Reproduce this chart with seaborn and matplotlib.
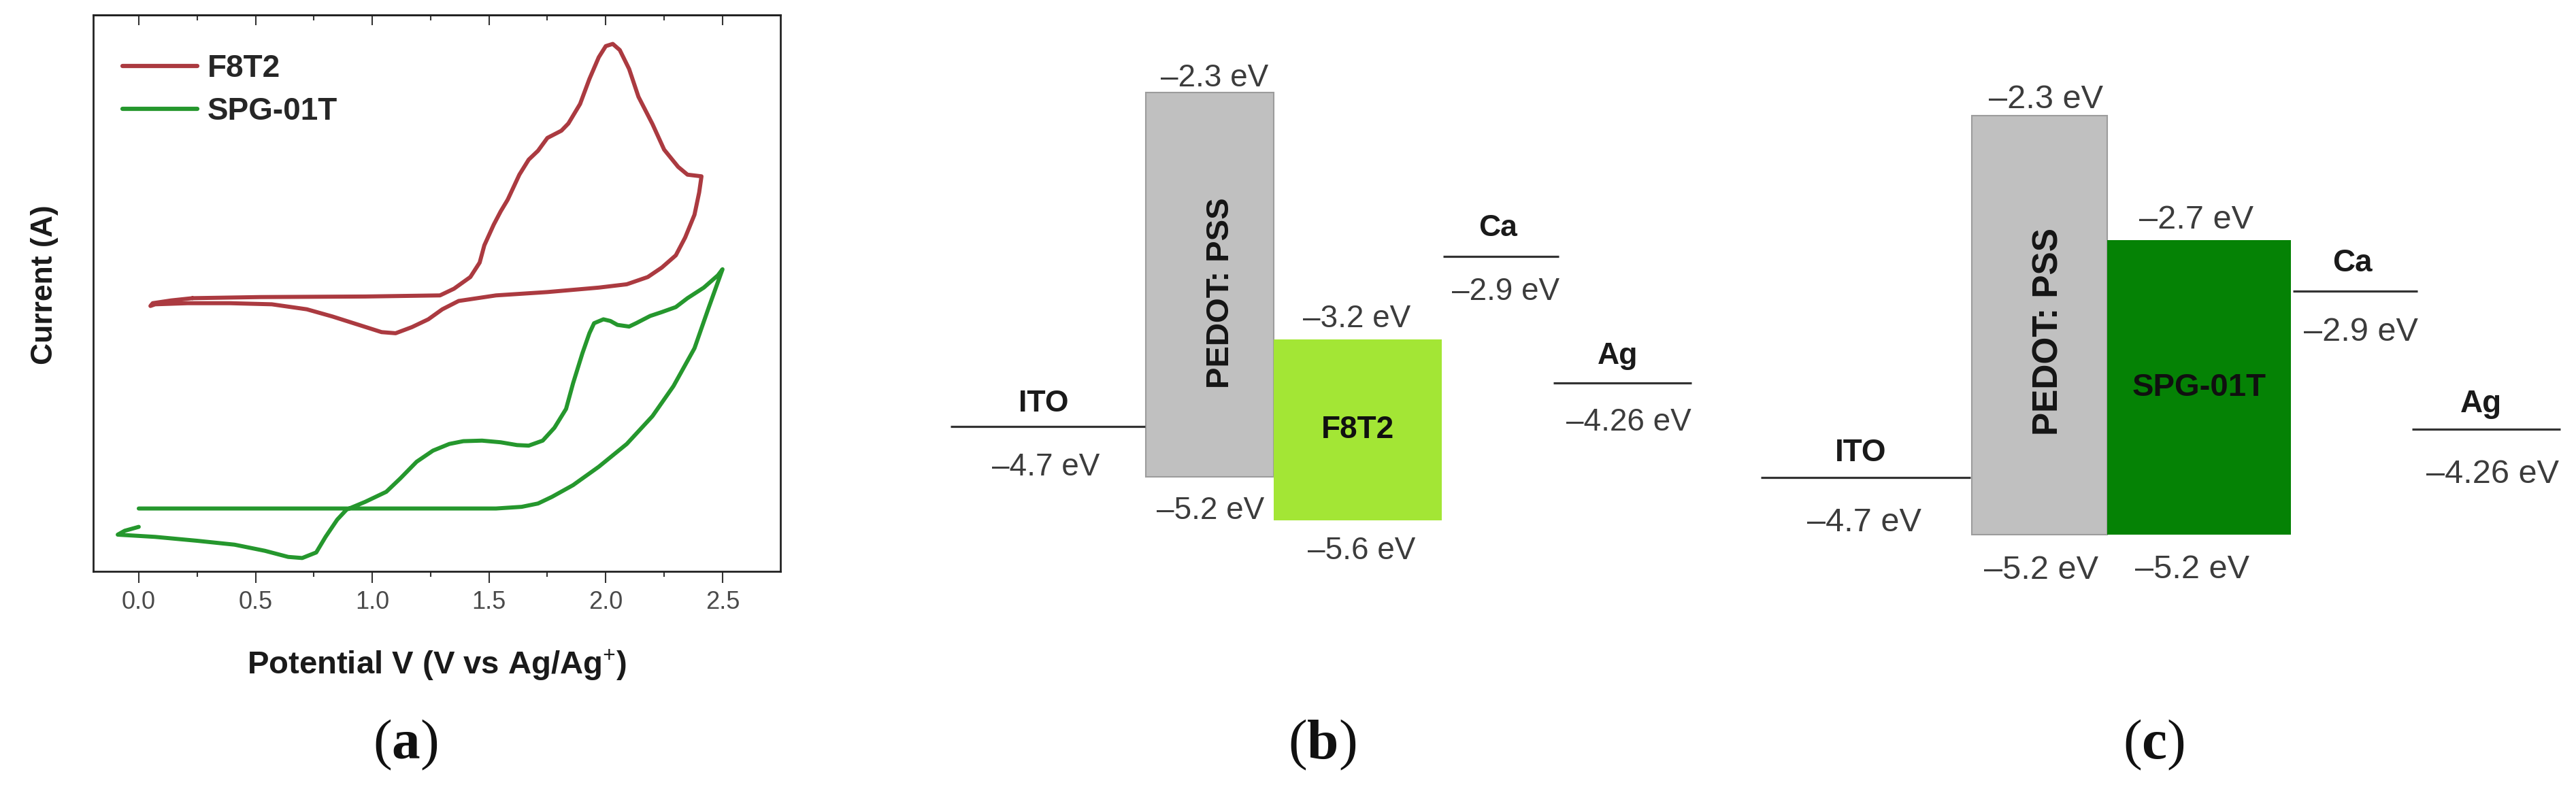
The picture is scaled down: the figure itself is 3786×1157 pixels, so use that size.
import numpy as np
import pandas as pd
import matplotlib
matplotlib.use("Agg")
import matplotlib.pyplot as plt
from matplotlib.ticker import MultipleLocator
import seaborn as sns

# (a) cyclic voltammograms, current in arbitrary units
f8t2_v = [0.23, 0.52, 0.97, 1.29, 1.35, 1.42, 1.46, 1.48, 1.52, 1.55, 1.58, 1.63, 1.67, 1.71,
          1.75, 1.81, 1.84, 1.89, 1.93, 1.97, 2.00, 2.03, 2.06, 2.10, 2.14, 2.20, 2.25, 2.31,
          2.35, 2.41, 2.40, 2.38, 2.34, 2.30, 2.24, 2.18, 2.09, 1.97, 1.75, 1.53, 1.37, 1.30,
          1.24, 1.17, 1.10, 1.04, 0.95, 0.83, 0.72, 0.57, 0.39, 0.21, 0.07, 0.05, 0.06, 0.14, 0.23]
f8t2_i = [49.1, 49.3, 49.4, 49.6, 50.8, 52.9, 55.5, 58.6, 62.3, 64.7, 66.8, 71.3, 74.0, 75.6,
          77.9, 79.2, 80.5, 84.0, 88.5, 92.4, 94.4, 94.8, 93.7, 90.3, 85.3, 80.4, 75.8, 72.7,
          71.3, 71.0, 68.1, 64.1, 60.0, 56.8, 54.6, 52.9, 51.6, 51.0, 50.2, 49.6, 48.6, 47.1,
          45.3, 43.9, 42.8, 43.0, 44.2, 45.8, 47.1, 48.0, 48.2, 48.2, 48.0, 47.7, 48.2, 48.7, 49.1]
spg_v = [0.00, 0.52, 1.19, 1.53, 1.64, 1.71, 1.77, 1.86, 1.97, 2.09, 2.20, 2.29, 2.38, 2.44,
         2.50, 2.48, 2.42, 2.35, 2.30, 2.24, 2.19, 2.13, 2.10, 2.05, 2.02, 1.99, 1.95, 1.93,
         1.90, 1.86, 1.83, 1.78, 1.73, 1.67, 1.62, 1.55, 1.47, 1.39, 1.33, 1.26, 1.19, 1.12,
         1.06, 0.97, 0.89, 0.85, 0.80, 0.76, 0.70, 0.64, 0.54, 0.41, 0.25, 0.07, -0.09, -0.06, 0.00]
spg_i = [11.3, 11.3, 11.3, 11.3, 11.6, 12.2, 13.4, 15.5, 18.8, 22.9, 27.9, 33.3, 40.1, 47.3,
         54.3, 53.2, 51.0, 49.1, 47.5, 46.6, 45.9, 44.6, 44.0, 44.3, 45.0, 45.3, 44.6, 42.8,
         39.2, 33.8, 29.2, 25.8, 23.5, 22.6, 22.7, 23.2, 23.5, 23.4, 22.9, 21.7, 19.7, 16.7,
         14.3, 12.5, 11.1, 9.3, 6.2, 3.4, 2.4, 2.6, 3.7, 4.8, 5.5, 6.2, 6.6, 7.3, 8.0]
cv_names = ["F8T2", "SPG-01T"]
cv_colors = ["#ab3a40", "#25972d"]

# (b), (c) energy levels in eV
ito_level = -4.7
ca_level = -2.9
ag_level = -4.26
pedot_levels = [-2.3, -5.2]
f8t2_levels = [-3.2, -5.6]
spg_levels = [-2.7, -5.2]

W, H = 3787, 1157

sns.set_theme(style="ticks")
plt.rcParams["font.family"] = ["Liberation Sans", "DejaVu Sans"]
plt.rcParams["mathtext.fontset"] = "custom"
plt.rcParams["mathtext.rm"] = "Liberation Serif"
plt.rcParams["mathtext.bf"] = "Liberation Serif:bold"

fig = plt.figure(figsize=(W / 100, H / 100), dpi=100)

# ---------------- (a)
ax = fig.add_axes([137 / W, (H - 840) / H, (1147 - 137) / W, (840 - 22) / H])
cv = pd.concat([
    pd.DataFrame({"V": f8t2_v, "I": f8t2_i, "sample": cv_names[0]}),
    pd.DataFrame({"V": spg_v, "I": spg_i, "sample": cv_names[1]}),
], ignore_index=True)
sns.lineplot(data=cv, x="V", y="I", hue="sample", palette=dict(zip(cv_names, cv_colors)),
             sort=False, estimator=None, lw=4.3, ax=ax)
for ln in ax.get_lines():
    ln.set_solid_joinstyle("round")
ax.set_xlim(-0.195, 2.748)
ax.set_ylim(0, 100)
ax.set_yticks([])
ax.xaxis.set_major_locator(MultipleLocator(0.5))
ax.xaxis.set_minor_locator(MultipleLocator(0.25))
ax.tick_params(axis="x", which="both", direction="out", top=False, width=1.5, color="#333333",
               labelsize=26, labelcolor="#4a4a4a", pad=8)
ax.tick_params(axis="x", which="major", length=12)
ax.tick_params(axis="x", which="minor", length=6)
for s in ax.spines.values():
    s.set_linewidth(2)
    s.set_color("#222222")
top = ax.secondary_xaxis("top")
top.xaxis.set_major_locator(MultipleLocator(0.5))
top.xaxis.set_minor_locator(MultipleLocator(0.25))
top.tick_params(which="both", direction="in", labeltop=False, width=1.5, color="#333333")
top.tick_params(which="major", length=11)
top.tick_params(which="minor", length=6)
top.spines["top"].set_linewidth(2)
top.spines["top"].set_color("#222222")

ax.set_xlabel(r"Potential V (V vs Ag/Ag$^{\mathbf{+}}$)", fontsize=34, fontweight="bold",
              color="#1a1a1a")
ax.xaxis.set_label_coords(0.5, -0.138)
ax.set_ylabel("Current (A)", fontsize=32, fontweight="bold", color="#1a1a1a")
ax.yaxis.set_label_coords(-0.050, 0.515)

handles, labels = ax.get_legend_handles_labels()
leg = ax.legend(handles, labels, loc="upper left", bbox_to_anchor=(0.0426, 0.93), frameon=False,
                borderpad=0, borderaxespad=0, handlelength=2.4, handletextpad=0.33,
                labelspacing=0.4, prop={"size": 33, "weight": "bold"})
for ln in leg.get_lines():
    ln.set_linewidth(4.5)


# ---------------- (b), (c) schematic energy diagrams
def ev_text(v):
    return "\u2013%s eV" % format(abs(v), "g")


def band_axes(span, marks_ev, marks_px):
    x0, x1 = span
    bax = fig.add_axes([x0 / W, 0, (x1 - x0) / W, 1])
    order = np.argsort(marks_ev)
    ev = np.asarray(marks_ev, float)[order]
    hp = H - np.asarray(marks_px, float)[order]
    # the drawing is not to scale: piecewise-linear energy axis through the drawn levels
    ev2 = np.r_[ev[0] - 10, ev, ev[-1] + 10]
    hp2 = np.r_[hp[0] - 1500, hp, hp[-1] + 1500]
    fwd = lambda v: np.interp(v, ev2, hp2)
    inv = lambda p: np.interp(p, hp2, ev2)
    bax.set_yscale("function", functions=(fwd, inv))
    bax.set_xlim(x0, x1)
    bax.set_ylim(inv(0), inv(H))
    bax.axis("off")
    return bax


def draw_band(bax, g, poly_name, poly_levels, poly_color, off, fs_val, fs_name, fs_pedot):
    lc = "#333333"
    for key, lev in (("ito", ito_level), ("ca", ca_level), ("ag", ag_level)):
        bax.hlines(lev, g[key][0], g[key][1], color=lc, lw=2.3)
    pb = bax.bar(g["pedot"][0], pedot_levels[0] - pedot_levels[1], width=g["pedot"][1] - g["pedot"][0],
                 bottom=pedot_levels[1], align="edge", color="#c0c0c0", edgecolor="#9c9c9c", lw=1.5)
    yb = bax.bar(g["poly"][0], poly_levels[0] - poly_levels[1], width=g["poly"][1] - g["poly"][0],
                 bottom=poly_levels[1], align="edge", color=poly_color, lw=0)
    bax.annotate("PEDOT: PSS", xy=(0.5, 0.5), xycoords=pb[0], xytext=off["pedot_lab"],
                 textcoords="offset pixels", rotation=90, ha="center", va="center",
                 fontsize=fs_pedot, fontweight="bold", color="#151515")
    bax.annotate(poly_name, xy=(0.5, 0.5), xycoords=yb[0], ha="center", va="center",
                 fontsize=fs_name + 1, fontweight="bold", color="#101010")

    def put(text, key, lev, name=False):
        xc = (g[key[0]][0] + g[key[0]][1]) / 2
        bax.annotate(text, xy=(xc, lev), xytext=off[key], textcoords="offset pixels",
                     ha="center", va="baseline", fontsize=fs_name if name else fs_val,
                     fontweight="bold" if name else "normal",
                     color="#1a1a1a" if name else "#3c3c3c")

    put("ITO", ("ito", "n"), ito_level, True)
    put(ev_text(ito_level), ("ito", "v"), ito_level)
    put("Ca", ("ca", "n"), ca_level, True)
    put(ev_text(ca_level), ("ca", "v"), ca_level)
    put("Ag", ("ag", "n"), ag_level, True)
    put(ev_text(ag_level), ("ag", "v"), ag_level)
    put(ev_text(pedot_levels[0]), ("pedot", "t"), pedot_levels[0])
    put(ev_text(pedot_levels[1]), ("pedot", "b"), pedot_levels[1])
    put(ev_text(poly_levels[0]), ("poly", "t"), poly_levels[0])
    put(ev_text(poly_levels[1]), ("poly", "b"), poly_levels[1])


geom_b = {"ito": (1397, 1683), "pedot": (1684, 1872), "poly": (1872, 2119),
          "ca": (2121, 2291), "ag": (2283, 2486)}
off_b = {("ito", "n"): (-6, 22), ("ito", "v"): (-3, -72), ("ca", "n"): (-4, 30),
         ("ca", "v"): (7, -64), ("ag", "n"): (-7, 28), ("ag", "v"): (9, -70),
         ("pedot", "t"): (7, 9), ("pedot", "b"): (1, -62), ("poly", "t"): (-1, 18),
         ("poly", "b"): (6, -57), "pedot_lab": (16, -12)}
axb = band_axes((1350, 2550), [-2.3, -2.9, -3.2, -4.26, -4.7, -5.2, -5.6],
                [136, 377, 499, 563, 627, 701, 765])
draw_band(axb, geom_b, "F8T2", f8t2_levels, "#a3e635", off_b, 33, 32, 34)

geom_c = {"ito": (2588, 2896), "pedot": (2898, 3097), "poly": (3097, 3367),
          "ca": (3370, 3553), "ag": (3545, 3763)}
off_c = {("ito", "n"): (-7, 24), ("ito", "v"): (-2, -79), ("ca", "n"): (-4, 29),
         ("ca", "v"): (8, -73), ("ag", "n"): (-8, 25), ("ag", "v"): (10, -79),
         ("pedot", "t"): (10, 11), ("pedot", "b"): (3, -65), ("poly", "t"): (-4, 17),
         ("poly", "b"): (-10, -64), "pedot_lab": (14, -10)}
axc = band_axes((2550, 3787), [-2.3, -2.7, -2.9, -4.26, -4.7, -5.2],
                [170, 353, 428, 631, 702, 786])
draw_band(axc, geom_c, "SPG-01T", spg_levels, "#058205", off_c, 35, 33, 37)

# panel tags
for tag, xc in (("a", 596), ("b", 1943), ("c", 3165)):
    fig.text(xc / W, 1 - 1095 / H, r"($\mathbf{%s}$)" % tag, family="Liberation Serif",
             fontsize=60, ha="center", va="center", color="#111111")

fig.savefig("out.png", dpi=100, facecolor="white")
